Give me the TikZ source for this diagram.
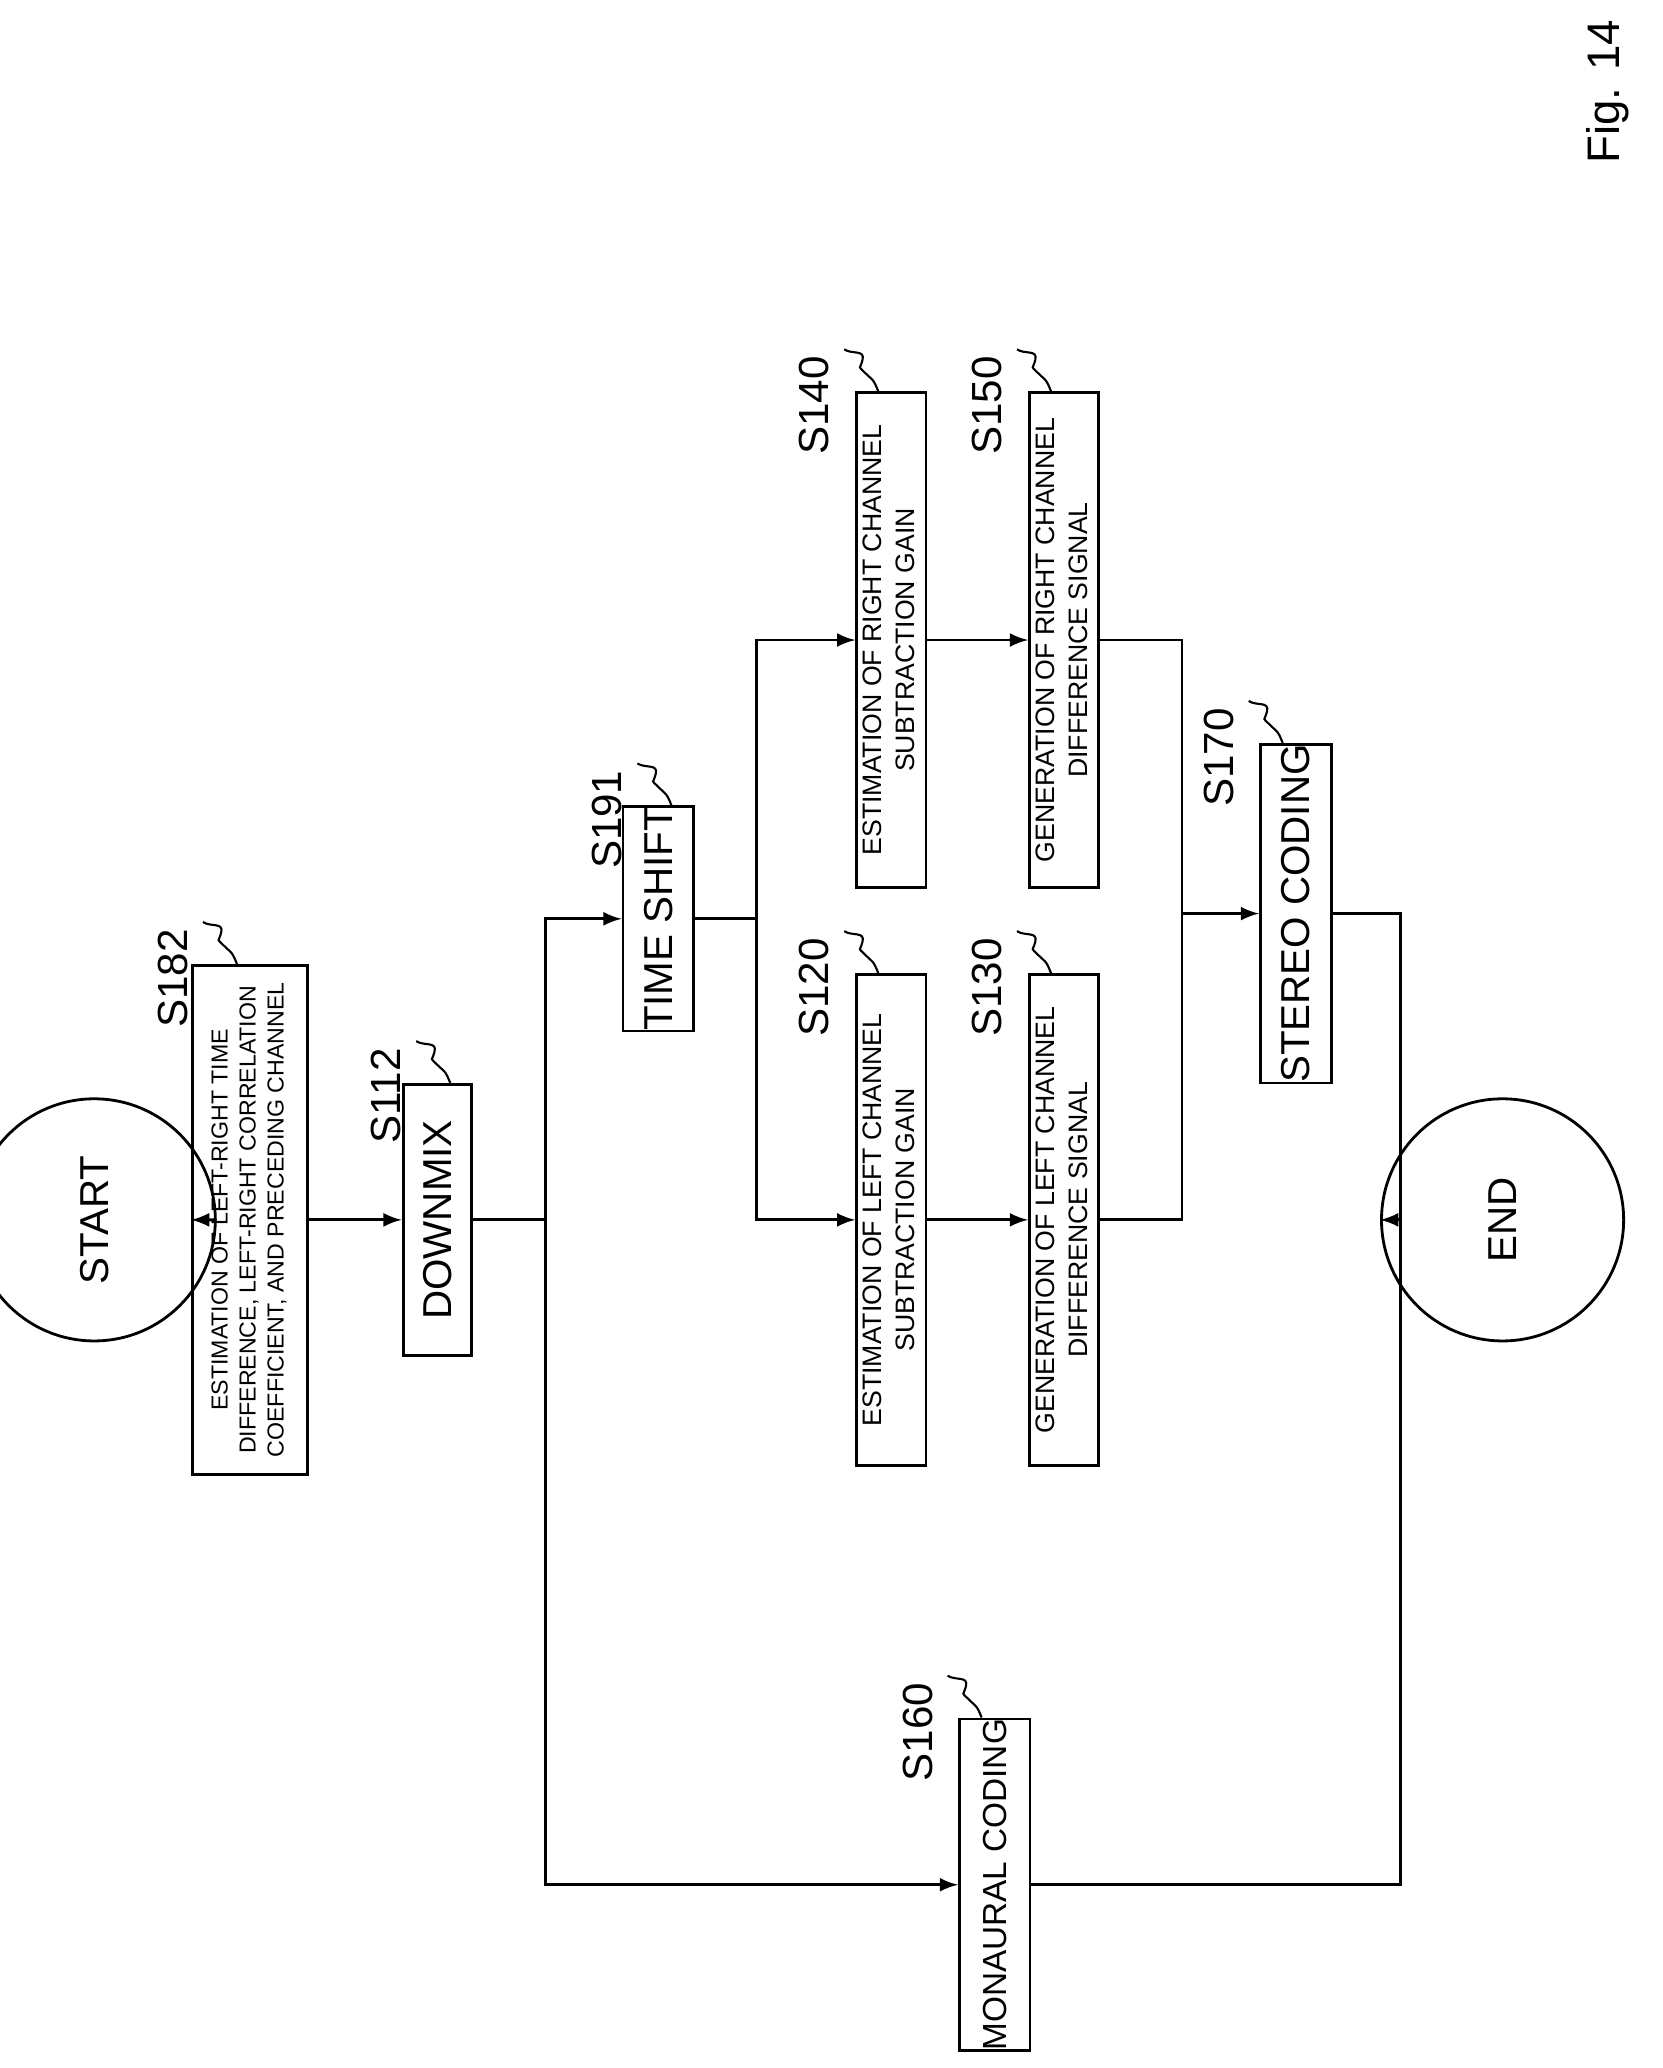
\documentclass[tikz,border=0pt]{standalone}
\usepackage{fontspec}
\setmainfont{Liberation Sans}
\usetikzlibrary{arrows,shapes.misc,calc}

\def\u{0.0131cm}
\tikzset{
  box/.style={draw,line width=0.8pt,inner sep=0pt,align=center},
  term/.style={box,rounded rectangle,rounded rectangle arc length=180},
  flow/.style={line width=0.8pt},
  arr/.style={flow,->,>=latex},
}
% step label with a squiggle, rotated like the page
\newcommand{\steplab}[3]{%
  \draw[line width=0.6pt] (#1) .. controls +(-4,-10) and +(6,6) .. ++(-10,-14)
    .. controls +(-6,-6) and +(-2,8) .. ++(-2,-10)
    .. controls +(2,-8) and +(6,4) .. ++(-14,-8) coordinate (#2);
  \node[anchor=south east,rotate=90,font=\fontsize{12}{12}\selectfont] at ($(#2)+(-2,-4)$) {#3};}

\begin{document}
\begin{tikzpicture}[x=0.0131cm,y=-0.0131cm]
  \useasboundingbox (0,0) rectangle (1270,1580);
  \node[rotate=90,font=\fontsize{13}{13}\selectfont] at (1228,70) {Fig. 14};

  \node[term,minimum width=55*\u,minimum height=185*\u] (start) at (72,932) {};
  \node[rotate=90,font=\fontsize{11.5}{12}\selectfont] at (start) {START};
  \node[box,minimum width=88*\u,minimum height=389*\u] (s182) at (191,932)
    {\rotatebox{90}{\fontsize{6.6}{8}\selectfont\begin{tabular}{@{}c@{}}ESTIMATION OF LEFT-RIGHT TIME\\DIFFERENCE, LEFT-RIGHT CORRELATION\\COEFFICIENT, AND PRECEDING CHANNEL\end{tabular}}};
  \node[box,minimum width=52*\u,minimum height=207*\u] (s112) at (334,932)
    {\rotatebox{90}{\fontsize{11.5}{12}\selectfont DOWNMIX}};
  \node[box,minimum width=54*\u,minimum height=161*\u] (s191) at (503,702)
    {\rotatebox{90}{\fontsize{11.5}{12}\selectfont TIME SHIFT}};
  \node[box,minimum width=53*\u,minimum height=378*\u] (s140) at (681,489)
    {\rotatebox{90}{\fontsize{7.6}{9.5}\selectfont\begin{tabular}{@{}c@{}}ESTIMATION OF RIGHT CHANNEL\\SUBTRACTION GAIN\end{tabular}}};
  \node[box,minimum width=53*\u,minimum height=378*\u] (s150) at (813,489)
    {\rotatebox{90}{\fontsize{7.6}{9.5}\selectfont\begin{tabular}{@{}c@{}}GENERATION OF RIGHT CHANNEL\\DIFFERENCE SIGNAL\end{tabular}}};
  \node[box,minimum width=53*\u,minimum height=375*\u] (s120) at (681,932)
    {\rotatebox{90}{\fontsize{7.6}{9.5}\selectfont\begin{tabular}{@{}c@{}}ESTIMATION OF LEFT CHANNEL\\SUBTRACTION GAIN\end{tabular}}};
  \node[box,minimum width=53*\u,minimum height=375*\u] (s130) at (813,932)
    {\rotatebox{90}{\fontsize{7.6}{9.5}\selectfont\begin{tabular}{@{}c@{}}GENERATION OF LEFT CHANNEL\\DIFFERENCE SIGNAL\end{tabular}}};
  \node[box,minimum width=54*\u,minimum height=227*\u] (s170) at (990,698)
    {\rotatebox{90}{\fontsize{11.5}{12}\selectfont STEREO CODING}};
  \node[term,minimum width=57*\u,minimum height=185*\u] (end) at (1148,932) {};
  \node[rotate=90,font=\fontsize{11.5}{12}\selectfont] at (end) {END};
  \node[box,minimum width=54*\u,minimum height=225*\u] (s160) at (760,1440)
    {\rotatebox{90}{\fontsize{9.5}{12}\selectfont MONAURAL CODING}};

  \coordinate (j1) at (417,932);
  \coordinate (j2) at (578,702);
  \coordinate (j3) at (903,698);
  \coordinate (j4) at (1070,932);

  \draw[arr] (start) -- (s182);
  \draw[arr] (s182) -- (s112);
  \draw[flow] (s112) -- (j1);
  \draw[arr] (j1) |- (s191);
  \draw[arr] (j1) |- (s160);
  \draw[flow] (s191) -- (j2);
  \draw[arr] (j2) |- (s140);
  \draw[arr] (j2) |- (s120);
  \draw[arr] (s140) -- (s150);
  \draw[arr] (s120) -- (s130);
  \draw[flow] (s150) -| (j3);
  \draw[flow] (s130) -| (j3);
  \draw[arr] (j3) -- (s170);
  \draw[flow] (s170) -| (j4);
  \draw[flow] (s160) -| (j4);
  \draw[arr] (j4) -- (end);

  \steplab{$(s182.north)+(-10,0)$}{t182}{S182}
  \steplab{$(s112.north)+(10,0)$}{t112}{S112}
  \steplab{$(s191.north)+(10,0)$}{t191}{S191}
  \steplab{$(s140.north)+(-10,0)$}{t140}{S140}
  \steplab{$(s150.north)+(-10,0)$}{t150}{S150}
  \steplab{$(s120.north)+(-10,0)$}{t120}{S120}
  \steplab{$(s130.north)+(-10,0)$}{t130}{S130}
  \steplab{$(s170.north)+(-10,0)$}{t170}{S170}
  \steplab{$(s160.north)+(-10,0)$}{t160}{S160}
\end{tikzpicture}
\end{document}
